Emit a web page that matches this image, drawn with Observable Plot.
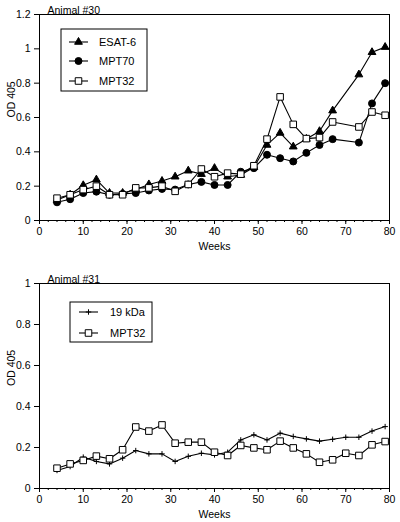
<!DOCTYPE html>
<html><head><meta charset="utf-8">
<script src="https://cdn.jsdelivr.net/npm/d3@7"></script>
<script src="https://cdn.jsdelivr.net/npm/@observablehq/plot@0.6"></script>
<style>
body{margin:0;background:#fff;}
#chart{width:400px;height:522px;}
svg{display:block;}
</style>
</head><body><div id="chart"></div>
<script>
// ---- data: Animal #30 ----
const weeks30 = [4,7,10,13,16,19,22,25,28,31,34,37,40,43,46,49,52,55,58,61,64,67,73,76,79];
const esat6_30 = [0.12,0.15,0.205,0.238,0.16,0.16,0.18,0.21,0.23,0.255,0.29,0.27,0.305,0.255,0.265,0.31,0.44,0.51,0.43,0.475,0.52,0.64,0.85,0.98,1.01];
const mpt70_30 = [0.106,0.124,0.16,0.168,0.15,0.155,0.16,0.175,0.184,0.18,0.21,0.225,0.207,0.207,0.284,0.305,0.383,0.363,0.344,0.394,0.44,0.474,0.454,0.682,0.80];
const mpt32_30 = [0.13,0.15,0.18,0.20,0.15,0.15,0.19,0.19,0.20,0.17,0.21,0.30,0.255,0.276,0.27,0.319,0.474,0.72,0.56,0.477,0.483,0.574,0.545,0.632,0.613];
// ---- data: Animal #31 ----
const weeks31 = [4,7,10,13,16,19,22,25,28,31,34,37,40,43,46,49,52,55,58,61,64,67,70,73,76,79];
const kda19_31 = [0.088,0.107,0.153,0.132,0.12,0.148,0.185,0.169,0.169,0.132,0.157,0.172,0.164,0.177,0.237,0.262,0.237,0.27,0.254,0.242,0.231,0.24,0.25,0.25,0.28,0.302];
const mpt32_31 = [0.099,0.12,0.137,0.158,0.145,0.189,0.30,0.28,0.31,0.221,0.226,0.226,0.177,0.161,0.21,0.198,0.189,0.231,0.198,0.169,0.128,0.14,0.172,0.161,0.213,0.229];
// ---- ticks / labels ----
const xTicks = [0,10,20,30,40,50,60,70,80];
const xMinorTicks = d3.range(0, 81, 2);
const yTicks30 = [0,0.2,0.4,0.6,0.8,1,1.2];
const yTicks31 = [0,0.2,0.4,0.6,0.8,1];
const xLabel = "Weeks";
const yLabel = "OD 405";

const FONT = "'Liberation Sans', Arial, Helvetica, sans-serif";
const symbolStyles = {
  "triangle": {fill: "black", stroke: "black", r: 2.9, d3sym: d3.symbolTriangle},
  "circle": {fill: "black", stroke: "black", r: 3.5, d3sym: d3.symbolCircle},
  "square": {fill: "white", stroke: "black", r: 3.7, d3sym: d3.symbolSquare},
  "plus": {fill: "none", stroke: "black", r: 1.9, d3sym: d3.symbolPlus}
};

function panel({title, weeks, series, yMax, yTicks, height, marginTop, marginBottom, legend}) {
  const data = series.flatMap(s => s.values.map((v, i) => ({week: weeks[i], od: v, name: s.name})));
  const marks = [
    Plot.frame({stroke: "black", strokeWidth: 1}),
    Plot.axisX(xMinorTicks, {tickSize: 2, tickFormat: () => "", label: null}),
    Plot.axisX(xTicks, {tickSize: 4, tickPadding: 3, label: null, fontSize: 10.5}),
    Plot.axisY(yTicks, {tickSize: 5, tickPadding: 4, tickFormat: d3.format("~g"), label: null, fontSize: 10.5}),
    Plot.text([xLabel], {frameAnchor: "bottom", dy: 26, lineAnchor: "middle", fontSize: 10.5, text: d => d}),
    Plot.text([yLabel], {frameAnchor: "left", dx: -28, rotate: -90, lineAnchor: "middle", fontSize: 10.5, text: d => d}),
    Plot.text([title], {frameAnchor: "top-left", dx: 8, dy: -1, lineAnchor: "bottom", textAnchor: "start", fontSize: 10.5, text: d => d}),
    Plot.line(data, {x: "week", y: "od", z: "name", stroke: "black", strokeWidth: 1.1})
  ];
  for (const s of series) {
    const st = symbolStyles[s.symbol];
    marks.push(Plot.dot(data.filter(d => d.name === s.name), {
      x: "week", y: "od", symbol: s.symbol, r: st.r, fill: st.fill, stroke: st.stroke, strokeWidth: 1
    }));
  }
  const svg = Plot.plot({
    width: 400, height,
    marginLeft: 39, marginRight: 11, marginTop, marginBottom,
    style: {fontFamily: FONT, fontSize: "10.5px", color: "black", background: "white"},
    x: {domain: [0, 80]},
    y: {domain: [0, yMax]},
    marks
  });
  // legend box
  const g = d3.select(svg).append("g").attr("text-anchor", "start");
  g.append("rect").attr("x", legend.x).attr("y", legend.y).attr("width", legend.w).attr("height", legend.h)
    .attr("fill", "white").attr("stroke", "black").attr("stroke-width", 1);
  series.forEach((s, i) => {
    const y = legend.items[i];
    const st = symbolStyles[s.symbol];
    g.append("line").attr("x1", legend.lx1).attr("x2", legend.lx2).attr("y1", y).attr("y2", y)
      .attr("stroke", "black").attr("stroke-width", 1.1);
    g.append("path").attr("transform", `translate(${(legend.lx1 + legend.lx2) / 2},${y})`)
      .attr("d", d3.symbol(st.d3sym, Math.PI * st.r * st.r)())
      .attr("fill", st.fill).attr("stroke", st.stroke).attr("stroke-width", 1);
    g.append("text").attr("x", legend.tx).attr("y", y).attr("dy", "0.35em")
      .attr("text-anchor", "start")
      .attr("font-size", 11).attr("font-family", FONT).attr("fill", "black").text(s.name);
  });
  return svg;
}

const root = document.getElementById("chart");
root.append(panel({
  title: "Animal #30",
  weeks: weeks30,
  series: [
    {name: "ESAT-6", values: esat6_30, symbol: "triangle"},
    {name: "MPT70", values: mpt70_30, symbol: "circle"},
    {name: "MPT32", values: mpt32_30, symbol: "square"}
  ],
  yMax: 1.2, yTicks: yTicks30, height: 261, marginTop: 14, marginBottom: 41,
  legend: {x: 61, y: 29, w: 86, h: 62, items: [42, 61, 81], lx1: 69, lx2: 88, tx: 99}
}));
root.append(panel({
  title: "Animal #31",
  weeks: weeks31,
  series: [
    {name: "19 kDa", values: kda19_31, symbol: "plus"},
    {name: "MPT32", values: mpt32_31, symbol: "square"}
  ],
  yMax: 1, yTicks: yTicks31, height: 261, marginTop: 22, marginBottom: 34,
  legend: {x: 70, y: 41, w: 82, h: 40, items: [51, 72], lx1: 79, lx2: 98, tx: 110}
}));
</script>
</body></html>
